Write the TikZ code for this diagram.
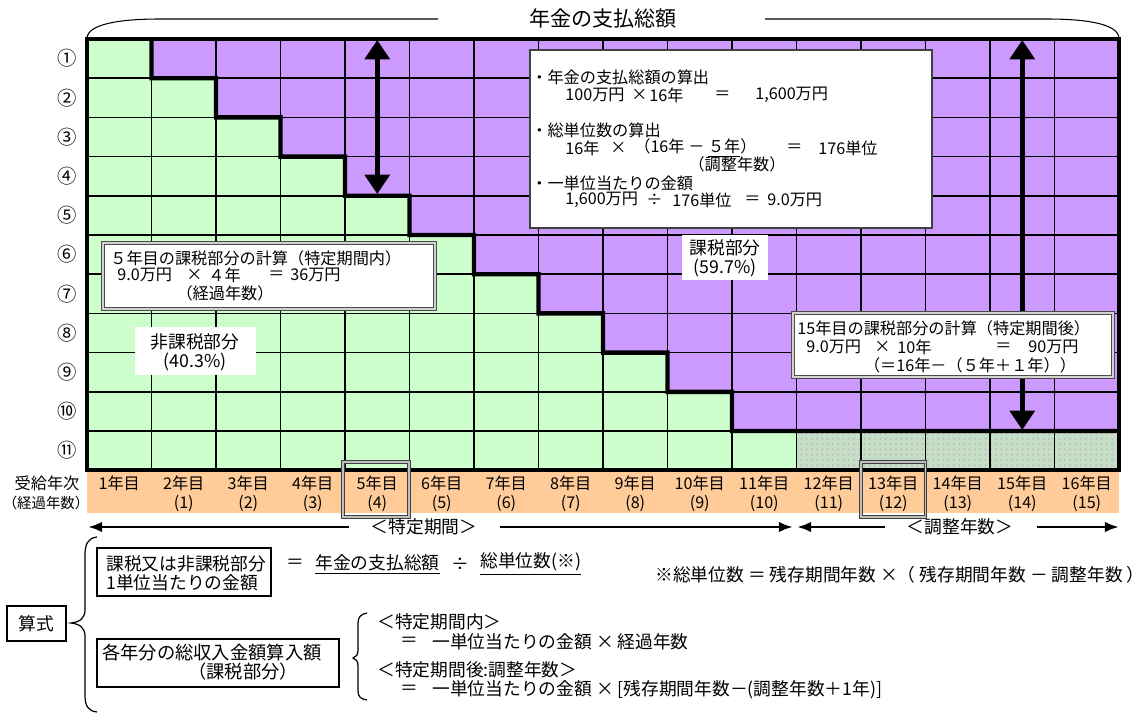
\documentclass[tikz,border=0pt]{standalone}
\usepackage{fontspec}
\setmainfont{Noto Sans CJK JP}
\usetikzlibrary{arrows.meta,patterns,positioning}
\definecolor{taxfree}{RGB}{204,255,204}
\definecolor{taxed}{RGB}{204,153,255}
\definecolor{yearband}{RGB}{255,204,153}
\definecolor{adjust}{RGB}{198,222,198}

\begin{document}
\begin{tikzpicture}[x=0.02cm,y=-0.02cm,
  txt/.style={inner sep=0pt,font=\fontsize{9.2}{11}\selectfont},
  big/.style={inner sep=0pt,font=\fontsize{10.1}{12}\selectfont},
  gridline/.style={line width=0.8pt},
  stair/.style={line width=2.5pt},
  dbox/.style={draw=gray!60!black,double=gray!35,double distance=1.2pt,line width=0.7pt,fill=white},
  hbox/.style={draw=black!75,double=gray!50,double distance=0.8pt,line width=0.7pt},
  period/.style={line width=1.6pt,-{Latex[length=8pt,width=6pt]}},
  bigarrow/.style={line width=2.6pt,{Triangle[length=11pt,width=14pt]}-{Triangle[length=11pt,width=14pt]}}]
\useasboundingbox (0,0) rectangle (1142,713);

% title and brace
\node[inner sep=0pt,font=\fontsize{12}{14}\selectfont] (total) at (603,18) {年金の支払総額};
\draw[line width=0.6pt] (87,38) .. controls (88,24) and (120,19) .. (160,19) -- (438,19);
\draw[line width=0.6pt] (765,19) -- (1047,19) .. controls (1087,19) and (1118,24) .. (1119,38);

% cells
\fill[taxfree] (87,39) rectangle (1119,470.2);
\foreach \k in {1,...,10}
  \fill[taxed] ({87+\k*64.5},{39+(\k-1)*39.2}) rectangle (1119,{39+\k*39.2});
\fill[adjust] (796.5,431) rectangle (1119,470.2);
\fill[pattern=dots,pattern color=gray!60] (796.5,431) rectangle (1119,470.2);
\fill[yearband] (87,471) rectangle (1119,513);
\foreach \i in {1,...,15} \draw[gridline] ({87+\i*64.5},39) -- ({87+\i*64.5},470.2);
\foreach \j in {1,...,10} \draw[gridline] (87,{39+\j*39.2}) -- (1119,{39+\j*39.2});
\draw[stair] (151.5,39) \foreach \k in {1,...,10} {|- ({87+(\k+1)*64.5},{39+\k*39.2})} -- (1119,431);
\draw[line width=2.6pt] (87,39) rectangle (1119,470.2);

% row and year labels
\foreach \r/\s in {1/①,2/②,3/③,4/④,5/⑤,6/⑥,7/⑦,8/⑧,9/⑨,10/⑩,11/⑪}
  \node[inner sep=0pt,font=\fontsize{11}{13}\selectfont] (row\r) at (67,{39+(\r-0.5)*39.2}) {\s};
\node[txt] (recv) at (47,483) {受給年次};
\node[inner sep=0pt,font=\fontsize{8.2}{10}\selectfont] (elapsed) at (46,503) {（経過年数）};
\foreach \c in {1,...,16}
  \node[txt] (yr\c) at ({87+(\c-0.5)*64.5},483) {\c 年目};
\foreach \c [evaluate=\c as \e using int(\c-1)] in {2,...,16}
  \node[txt] (el\c) at ({87+(\c-0.5)*64.5},503) {(\e)};
\draw[hbox] (343,462) rectangle (409,517);
\draw[hbox] (861,462) rectangle (925.5,517);

% double arrows
\coordinate (a1top) at (377.25,40);
\coordinate (a1bot) at (377.25,194);
\coordinate (a2top) at (1022.25,40);
\coordinate (a2bot) at (1022.25,430);
\draw[bigarrow] (a1top) -- (a1bot);
\draw[bigarrow] (a2top) -- (a2bot);

% calculation box
\draw[draw=gray!50!black,fill=white,line width=0.6pt] (530,50) rectangle (932,228);
\node[txt,anchor=west] (c1) at (531,77) {・年金の支払総額の算出};
\node[txt,anchor=west] (c2a) at (565,95) {100万円};
\node[txt,anchor=west] (c2b) at (631,95) {×};
\node[txt,anchor=west] (c2c) at (649,95) {16年};
\node[txt,anchor=west] (c2d) at (714,95) {＝};
\node[txt,anchor=west] (c2e) at (755,95) {1,600万円};
\node[txt,anchor=west] (c3) at (531,130) {・総単位数の算出};
\node[txt,anchor=west] (c4a) at (565,148) {16年};
\node[txt,anchor=west] (c4b) at (610,148) {×};
\node[txt,anchor=west] (c4c) at (634,148) {（16年 － \underline{５年}）};
\node[txt,anchor=west] (c4d) at (786,148) {＝};
\node[txt,anchor=west] (c4e) at (818,148) {176単位};
\node[txt] (c5) at (737,164) {（調整年数）};
\node[txt,anchor=west] (c6) at (531,183) {・一単位当たりの金額};
\node[txt,anchor=west] (c7a) at (565,200) {1,600万円};
\node[txt,anchor=west] (c7b) at (646,200) {÷};
\node[txt,anchor=west] (c7c) at (672,200) {176単位};
\node[txt,anchor=west] (c7d) at (744,200) {＝};
\node[txt,anchor=west] (c7e) at (767,200) {9.0万円};

% year 5 box
\draw[dbox] (103,243) rectangle (435,309);
\node[txt,anchor=west] (y5a) at (110,258) {５年目の課税部分の計算（特定期間内）};
\node[txt,anchor=west] (y5b) at (117,275) {9.0万円};
\node[txt,anchor=west] (y5c) at (186,275) {×};
\node[txt,anchor=west] (y5d) at (208,275) {４年};
\node[txt,anchor=west] (y5e) at (268,275) {＝};
\node[txt,anchor=west] (y5f) at (290,275) {36万円};
\node[txt] (y5g) at (225,293) {（経過年数）};

% shares
\fill[white] (135,327) rectangle (256,375);
\node[big] (free1) at (195,342) {非課税部分};
\node[big] (free2) at (195,362) {(40.3\%)};
\fill[white] (682,235) rectangle (768,280);
\node[big] (tax1) at (725,248) {課税部分};
\node[big] (tax2) at (725,268) {(59.7\%)};

% year 15 box
\draw[dbox] (793,313) rectangle (1113,377);
\node[txt,anchor=west] (y15a) at (797,328) {15年目の課税部分の計算（特定期間後）};
\node[txt,anchor=west] (y15b) at (806,347) {9.0万円};
\node[txt,anchor=west] (y15c) at (874,347) {×};
\node[txt,anchor=west] (y15d) at (897,347) {10年};
\node[txt,anchor=west] (y15e) at (995,347) {＝};
\node[txt,anchor=west] (y15f) at (1028,347) {90万円};
\node[txt] (y15g) at (970,365) {（＝16年－（５年＋１年））};

% periods
\node[big] (spec) at (424,527) {＜特定期間＞};
\node[big] (adj) at (960,527) {＜調整年数＞};
\coordinate (specL) at (88,527);
\coordinate (specR) at (793,527);
\coordinate (adjL) at (797,527);
\coordinate (adjR) at (1119,527);
\draw[period] ([xshift=-0.42cm]spec.west) -- (specL);
\draw[period] ([xshift=0.44cm]spec.east) -- (specR);
\draw[period] ([xshift=-0.42cm]adj.west) -- (adjL);
\draw[period] ([xshift=0.46cm]adj.east) -- (adjR);

% formula
\draw[line width=0.7pt] (97,537) .. controls (88,538) and (85,544) .. (85,555) -- (85,610)
  .. controls (85,618) and (80,622) .. (71,623) .. controls (80,624) and (85,628) .. (85,636)
  -- (85,695) .. controls (85,706) and (88,711) .. (97,712);
\draw[line width=1pt] (7,606) rectangle (66,641);
\node[big] (siki) at (36.5,623.5) {算式};
\draw[line width=0.9pt] (97,548) rectangle (271,596);
\node[big,anchor=west] (unit1) at (106,564) {課税又は非課税部分};
\node[big,anchor=west] (unit2) at (106,583) {1単位当たりの金額};
\node[big] (eq1) at (295,564) {＝};
\node[big,anchor=west] (pay) at (315,564) {\underline{年金の支払総額}};
\node[big] (div1) at (460,564) {÷};
\node[big,anchor=west] (units) at (480,564) {\underline{総単位数(※)}};
\node[big,anchor=west] (note) at (655,575) {※総単位数 ＝ 残存期間年数 ×（ 残存期間年数 － 調整年数 ）};
\draw[line width=0.9pt] (97,639) rectangle (339,687);
\node[inner sep=0pt,font=\fontsize{10.4}{12}\selectfont,anchor=west] (inc1) at (102,653) {各年分の総収入金額算入額};
\node[inner sep=0pt,font=\fontsize{10.4}{12}\selectfont] (inc2) at (243,672) {（課税部分）};
\draw[line width=0.7pt] (367,613) .. controls (361,614) and (358,617) .. (358,623) -- (358,650)
  .. controls (358,655) and (356,657) .. (353,658) .. controls (356,659) and (358,661) .. (358,666)
  -- (358,691) .. controls (358,697) and (361,699) .. (367,700);
\node[big,anchor=west] (in1) at (377,622) {＜特定期間内＞};
\node[big,anchor=west] (in2) at (400,642) {＝};
\node[big,anchor=west] (in3) at (432,642) {一単位当たりの金額 × 経過年数};
\node[big,anchor=west] (af1) at (377,670) {＜特定期間後:調整年数＞};
\node[big,anchor=west] (af2) at (400,690) {＝};
\node[big,anchor=west] (af3) at (432,690) {一単位当たりの金額 × [残存期間年数－(調整年数＋1年)]};
\end{tikzpicture}
\end{document}
